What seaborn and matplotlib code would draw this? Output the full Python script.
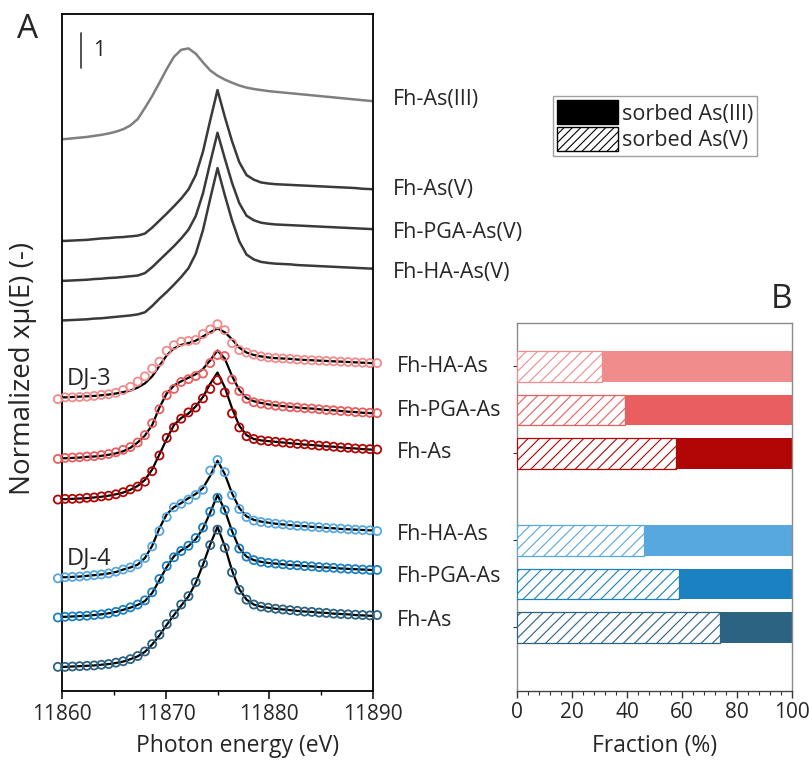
import numpy as np
import pandas as pd
import matplotlib
matplotlib.use("Agg")
import matplotlib.pyplot as plt
from matplotlib.patches import Patch
from matplotlib.ticker import MultipleLocator
import seaborn as sns

# ---------------- data (panel A) ----------------
energy = [11859.6, 11860.3, 11861.0, 11861.7, 11862.4, 11863.1, 11863.8, 11864.5, 11865.2,
          11865.9, 11866.6, 11867.3, 11868.0, 11868.7, 11869.4, 11870.1, 11870.8, 11871.5,
          11872.2, 11872.9, 11873.6, 11874.3, 11875.0, 11875.7, 11876.4, 11877.1, 11877.8,
          11878.5, 11879.2, 11879.9, 11880.6, 11881.3, 11882.0, 11882.7, 11883.4, 11884.1,
          11884.8, 11885.5, 11886.2, 11886.9, 11887.6, 11888.3, 11889.0, 11889.7, 11890.4]

ref_names = ["Fh-As(III)", "Fh-As(V)", "Fh-PGA-As(V)", "Fh-HA-As(V)"]
ref_offsets = [15.76, 12.86, 11.72, 10.59]
ref_as3 = [0.00, 0.01, 0.03, 0.05, 0.07, 0.10, 0.13, 0.17, 0.22, 0.29, 0.40, 0.58, 0.90, 1.24, 1.62,
           2.01, 2.36, 2.56, 2.60, 2.45, 2.20, 1.97, 1.82, 1.71, 1.62, 1.54, 1.48, 1.44, 1.41, 1.38,
           1.36, 1.34, 1.32, 1.30, 1.28, 1.26, 1.24, 1.22, 1.20, 1.18, 1.16, 1.14, 1.12, 1.10, 1.09]
ref_as5 = [0.00, 0.00, 0.01, 0.02, 0.03, 0.05, 0.07, 0.08, 0.10, 0.11, 0.13, 0.15, 0.21, 0.38, 0.58,
           0.78, 0.99, 1.21, 1.47, 1.88, 2.55, 3.45, 4.31, 3.55, 2.85, 2.25, 1.88, 1.75, 1.67, 1.64,
           1.62, 1.61, 1.60, 1.59, 1.58, 1.57, 1.56, 1.55, 1.54, 1.53, 1.52, 1.51, 1.49, 1.48, 1.47]
ref_pga_as5 = [0.00, 0.00, 0.01, 0.02, 0.03, 0.05, 0.06, 0.08, 0.09, 0.11, 0.13, 0.15, 0.22, 0.39, 0.59,
               0.79, 0.99, 1.21, 1.46, 1.85, 2.50, 3.38, 4.23, 3.50, 2.80, 2.22, 1.86, 1.73, 1.66, 1.63,
               1.61, 1.60, 1.59, 1.58, 1.57, 1.56, 1.55, 1.54, 1.53, 1.52, 1.51, 1.50, 1.49, 1.48, 1.47]
ref_ha_as5 = [0.00, 0.00, 0.01, 0.02, 0.03, 0.05, 0.06, 0.08, 0.10, 0.12, 0.14, 0.17, 0.23, 0.41, 0.62,
              0.81, 1.02, 1.24, 1.49, 1.90, 2.58, 3.48, 4.35, 3.58, 2.86, 2.26, 1.88, 1.74, 1.67, 1.64,
              1.62, 1.61, 1.60, 1.58, 1.57, 1.56, 1.55, 1.54, 1.53, 1.52, 1.51, 1.50, 1.49, 1.48, 1.47]

sample_names = ["Fh-HA-As", "Fh-PGA-As", "Fh-As", "Fh-HA-As", "Fh-PGA-As", "Fh-As"]
sample_offsets = [8.39, 6.65, 5.48, 3.25, 2.12, 0.69]

dj3_ha_data = [-0.05, 0.00, 0.00, 0.01, 0.02, 0.04, 0.07, 0.09, 0.13, 0.21, 0.30, 0.45, 0.60, 0.82, 1.02,
               1.33, 1.49, 1.59, 1.61, 1.64, 1.81, 1.94, 2.09, 1.92, 1.55, 1.35, 1.28, 1.22, 1.17, 1.14,
               1.12, 1.11, 1.10, 1.08, 1.07, 1.06, 1.05, 1.04, 1.03, 1.02, 1.01, 1.00, 0.99, 0.98, 0.98]
dj3_ha_fit = [0.00, 0.00, 0.01, 0.02, 0.03, 0.04, 0.06, 0.08, 0.11, 0.15, 0.19, 0.28, 0.40, 0.60, 0.90,
              1.20, 1.40, 1.50, 1.55, 1.62, 1.74, 1.86, 1.97, 1.86, 1.66, 1.42, 1.28, 1.21, 1.17, 1.14,
              1.12, 1.11, 1.10, 1.08, 1.07, 1.06, 1.05, 1.04, 1.03, 1.02, 1.01, 1.00, 0.99, 0.98, 0.97]
dj3_pga_data = [-0.02, 0.01, 0.02, 0.03, 0.05, 0.06, 0.09, 0.12, 0.17, 0.24, 0.32, 0.45, 0.66, 1.00, 1.40,
                1.80, 1.98, 2.18, 2.26, 2.35, 2.42, 2.72, 2.95, 2.92, 2.25, 1.92, 1.70, 1.60, 1.56, 1.53,
                1.50, 1.48, 1.46, 1.45, 1.43, 1.42, 1.40, 1.38, 1.37, 1.35, 1.34, 1.32, 1.31, 1.30, 1.29]
dj3_pga_fit = [0.00, 0.00, 0.01, 0.02, 0.04, 0.05, 0.07, 0.10, 0.14, 0.20, 0.30, 0.45, 0.65, 0.95, 1.45,
               1.85, 2.08, 2.20, 2.30, 2.40, 2.55, 2.80, 3.08, 2.85, 2.35, 1.95, 1.72, 1.63, 1.58, 1.54,
               1.51, 1.49, 1.47, 1.45, 1.43, 1.42, 1.40, 1.38, 1.37, 1.35, 1.33, 1.32, 1.30, 1.29, 1.28]
dj3_as_data = [-0.01, 0.01, 0.01, 0.02, 0.04, 0.05, 0.08, 0.10, 0.14, 0.20, 0.28, 0.36, 0.50, 0.80, 1.25,
               1.75, 2.05, 2.30, 2.48, 2.62, 2.88, 3.15, 3.40, 3.05, 2.45, 2.05, 1.80, 1.72, 1.68, 1.66,
               1.64, 1.62, 1.60, 1.58, 1.57, 1.55, 1.53, 1.52, 1.50, 1.48, 1.47, 1.45, 1.44, 1.43, 1.42]
dj3_as_fit = [0.00, 0.00, 0.01, 0.02, 0.03, 0.05, 0.07, 0.10, 0.14, 0.19, 0.27, 0.38, 0.55, 0.85, 1.28,
              1.72, 2.12, 2.32, 2.45, 2.65, 2.92, 3.30, 3.62, 3.20, 2.60, 2.10, 1.83, 1.72, 1.68, 1.66,
              1.64, 1.62, 1.60, 1.58, 1.56, 1.55, 1.53, 1.51, 1.50, 1.48, 1.46, 1.45, 1.43, 1.42, 1.41]
dj4_ha_data = [-0.03, 0.00, 0.01, 0.02, 0.04, 0.06, 0.08, 0.11, 0.16, 0.22, 0.28, 0.37, 0.55, 0.88, 1.32,
               1.72, 2.00, 2.10, 2.22, 2.35, 2.50, 3.05, 3.35, 3.00, 2.35, 1.95, 1.72, 1.62, 1.58, 1.55,
               1.53, 1.51, 1.49, 1.47, 1.46, 1.44, 1.43, 1.41, 1.40, 1.39, 1.37, 1.36, 1.35, 1.34, 1.32]
dj4_ha_fit = [0.00, 0.00, 0.01, 0.02, 0.04, 0.06, 0.08, 0.11, 0.15, 0.22, 0.28, 0.36, 0.55, 0.90, 1.40,
              1.80, 2.00, 2.12, 2.26, 2.38, 2.55, 2.90, 3.33, 2.95, 2.40, 1.98, 1.74, 1.64, 1.59, 1.56,
              1.53, 1.51, 1.49, 1.47, 1.46, 1.44, 1.43, 1.41, 1.40, 1.38, 1.37, 1.36, 1.35, 1.34, 1.33]
dj4_pga_data = [-0.02, 0.00, 0.01, 0.02, 0.03, 0.05, 0.07, 0.10, 0.14, 0.20, 0.27, 0.35, 0.47, 0.70, 1.08,
                1.45, 1.70, 1.88, 2.03, 2.25, 2.55, 3.00, 3.40, 3.05, 2.42, 1.95, 1.72, 1.62, 1.57, 1.54,
                1.52, 1.50, 1.48, 1.47, 1.45, 1.44, 1.42, 1.41, 1.40, 1.38, 1.37, 1.36, 1.35, 1.34, 1.34]
dj4_pga_fit = [0.00, 0.00, 0.01, 0.02, 0.03, 0.05, 0.07, 0.10, 0.14, 0.20, 0.26, 0.34, 0.45, 0.68, 1.05,
               1.42, 1.73, 1.90, 2.02, 2.22, 2.52, 2.98, 3.48, 3.05, 2.45, 1.96, 1.72, 1.62, 1.57, 1.54,
               1.52, 1.50, 1.48, 1.47, 1.45, 1.44, 1.42, 1.41, 1.40, 1.38, 1.37, 1.36, 1.35, 1.34, 1.33]
dj4_as_data = [0.00, 0.00, 0.01, 0.02, 0.03, 0.04, 0.06, 0.08, 0.12, 0.16, 0.22, 0.31, 0.44, 0.65, 0.92,
               1.22, 1.50, 1.78, 2.02, 2.42, 2.95, 3.48, 3.92, 3.40, 2.70, 2.20, 1.92, 1.78, 1.72, 1.69,
               1.66, 1.64, 1.62, 1.60, 1.58, 1.57, 1.55, 1.54, 1.52, 1.51, 1.50, 1.49, 1.48, 1.47, 1.48]
dj4_as_fit = [0.00, 0.00, 0.01, 0.02, 0.03, 0.04, 0.06, 0.08, 0.11, 0.15, 0.22, 0.30, 0.43, 0.64, 0.90,
              1.20, 1.48, 1.75, 2.01, 2.40, 2.92, 3.50, 4.00, 3.45, 2.75, 2.22, 1.92, 1.78, 1.72, 1.69,
              1.66, 1.64, 1.62, 1.60, 1.58, 1.57, 1.55, 1.54, 1.52, 1.51, 1.50, 1.48, 1.47, 1.46, 1.45]

# ---------------- data (panel B) ----------------
bar_positions = [1, 2, 3, 5, 6, 7]
frac_as5 = [30.8, 39.4, 57.7, 46.1, 59.0, 73.8]   # sorbed As(V), %
frac_total = [100, 100, 100, 100, 100, 100]

sample_colors = ["#F08C8C", "#E95E5E", "#B00606", "#58A8E0", "#1C81C0", "#2C6282"]

# ---------------- style ----------------
sns.set_theme(style="white")
plt.rcParams["font.family"] = ["Open Sans", "DejaVu Sans"]
plt.rcParams["hatch.linewidth"] = 0.8

W, H = 809, 761
fig = plt.figure(figsize=(W / 100, H / 100), dpi=100)


def fx(px):
    return px / W


def fy(py):
    return 1 - py / H


axA = fig.add_axes([fx(62), fy(691), fx(373) - fx(62), fy(14) - fy(691)])
axB = fig.add_axes([fx(517), fy(691), fx(792) - fx(517), fy(323) - fy(691)])

E = np.array(energy)

# references
refs = [ref_as3, ref_as5, ref_pga_as5, ref_ha_as5]
ref_colors = ["#7F7F7F", "#3A3A3A", "#3A3A3A", "#3A3A3A"]
for vals, off, col in zip(refs, ref_offsets, ref_colors):
    sns.lineplot(x=E, y=np.array(vals) + off, ax=axA, color=col, lw=1.8,
                 estimator=None, sort=False)

# samples: data + fits
datas = [dj3_ha_data, dj3_pga_data, dj3_as_data, dj4_ha_data, dj4_pga_data, dj4_as_data]
fits = [dj3_ha_fit, dj3_pga_fit, dj3_as_fit, dj4_ha_fit, dj4_pga_fit, dj4_as_fit]
for d, f, off, col in zip(datas, fits, sample_offsets, sample_colors):
    sns.lineplot(x=E, y=np.array(f) + off, ax=axA, color="black", lw=1.6,
                 estimator=None, sort=False, zorder=3)
    sns.scatterplot(x=E, y=np.array(d) + off, ax=axA, s=34, marker="o",
                    facecolor="none", edgecolor=col, linewidth=1.3, zorder=4)
    axA.collections[-1].set_clip_on(False)

axA.set_xlim(11860, 11890)
axA.set_ylim(0, 677 / 35)
axA.set_yticks([])
axA.xaxis.set_major_locator(MultipleLocator(10))
axA.xaxis.set_minor_locator(MultipleLocator(5))
axA.tick_params(axis="x", which="major", direction="out", length=6, width=1.1,
                labelsize=15, pad=3, bottom=True, color="black")
axA.tick_params(axis="x", which="minor", direction="out", length=3, width=1.0,
                bottom=True, color="black")
axA.set_xlabel("")
axA.set_ylabel("")
for sp in axA.spines.values():
    sp.set_color("black")
    sp.set_linewidth(1.3)

# scale bar
axA.plot([11861.85, 11861.85], [17.8, 18.8], color="#333333", lw=1.2)
axA.text(11863.0, 18.3, "1", fontsize=15, va="center", ha="left", color="#222222")

# ---------------- panel B ----------------
dfB = pd.DataFrame({"pos": bar_positions, "total": frac_total, "as5": frac_as5,
                    "key": [str(p) for p in bar_positions]})
sns.barplot(data=dfB, x="total", y="pos", hue="key", palette=sample_colors, orient="h",
            native_scale=True, width=0.71, errorbar=None, legend=False, ax=axB,
            linewidth=0, saturation=1)
n0 = len(axB.patches)
sns.barplot(data=dfB, x="as5", y="pos", orient="h", native_scale=True, width=0.71,
            errorbar=None, color="white", ax=axB, saturation=1)
for p in axB.patches[n0:]:
    yc = p.get_y() + p.get_height() / 2
    idx = int(np.argmin([abs(yc - b) for b in bar_positions]))
    p.set_facecolor("white")
    p.set_edgecolor(sample_colors[idx])
    p.set_hatch("///")
    p.set_linewidth(0.9)
    p.set_zorder(3)

axB.set_xlim(0, 100)
axB.set_ylim(8.46, 0)
axB.set_yticks([1, 3, 5, 7])
axB.set_yticklabels([])
axB.tick_params(axis="y", which="major", direction="out", length=3, width=0.8, left=True,
                color="#333333")
axB.xaxis.set_major_locator(MultipleLocator(20))
axB.xaxis.set_minor_locator(MultipleLocator(4))
axB.tick_params(axis="x", which="major", direction="out", length=5, width=1.0,
                labelsize=15, pad=3, bottom=True, color="#333333")
axB.tick_params(axis="x", which="minor", direction="out", length=3, width=0.8,
                bottom=True, color="#333333")
axB.set_xlabel("")
axB.set_ylabel("")
for sp in axB.spines.values():
    sp.set_color("#8A8A8A")
    sp.set_linewidth(1.0)
axB.spines["bottom"].set_color("#444444")

# ---------------- texts ----------------
fs_lab = 15.5
fig.text(fx(28), fy(30), "A", fontsize=24, ha="center", va="center")
fig.text(fx(781), fy(300), "B", fontsize=24, ha="center", va="center")
fig.text(fx(238), fy(746), "Photon energy (eV)", fontsize=16.5, ha="center", va="center")
fig.text(fx(655), fy(746), "Fraction (%)", fontsize=16.5, ha="center", va="center")
fig.text(fx(23), fy(368), "Normalized x\u03bc(E) (-)", fontsize=20, ha="center",
         va="center", rotation=90)

ref_label_y = [100, 190, 232, 272]
for name, y in zip(ref_names, ref_label_y):
    fig.text(fx(393), fy(y), name, fontsize=fs_lab, ha="left", va="center")
sample_label_y = [366, 410, 452, 535, 577, 620]
for name, y in zip(sample_names, sample_label_y):
    fig.text(fx(397), fy(y), name, fontsize=fs_lab, ha="left", va="center")
fig.text(fx(67), fy(378), "DJ-3", fontsize=17, ha="left", va="center")
fig.text(fx(67), fy(558), "DJ-4", fontsize=17, ha="left", va="center")

# legend
handles = [Patch(facecolor="black", edgecolor="black"),
           Patch(facecolor="white", edgecolor="black", hatch="////")]
leg = fig.legend(handles, ["sorbed As(III)", "sorbed As(V)"], loc="upper left",
                 bbox_to_anchor=(fx(553), fy(96)), frameon=True, fancybox=False,
                 edgecolor="#888888", fontsize=fs_lab, handlelength=2.84, handleheight=1.35,
                 borderpad=0.2, labelspacing=0.12, handletextpad=0.15, borderaxespad=0)
leg.get_frame().set_linewidth(1.0)

fig.savefig("out.png", dpi=100)
